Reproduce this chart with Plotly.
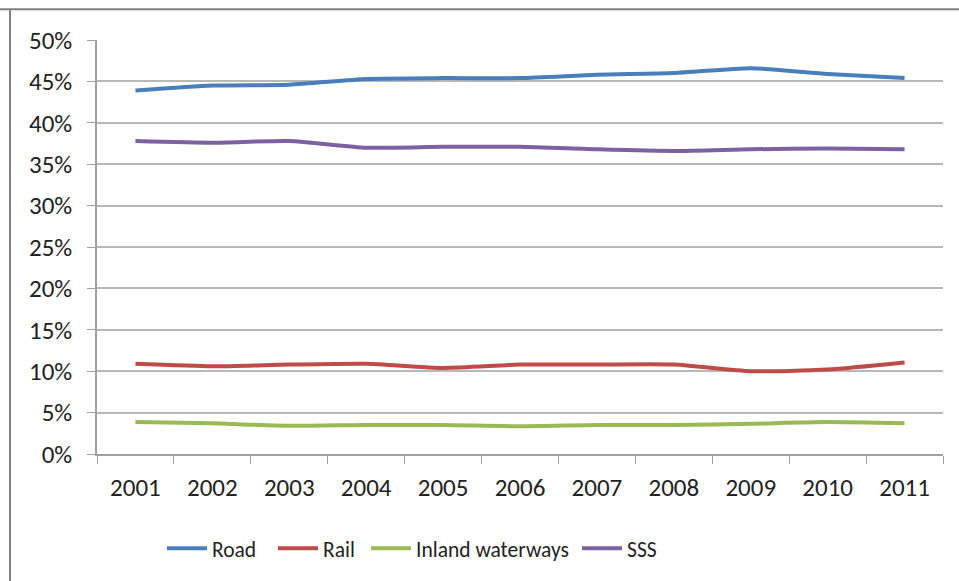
import plotly.graph_objects as go

years = ["2001", "2002", "2003", "2004", "2005", "2006", "2007", "2008", "2009", "2010", "2011"]
road = [43.9, 44.5, 44.6, 45.3, 45.4, 45.4, 45.8, 46.0, 46.6, 45.9, 45.4]
rail = [10.9, 10.6, 10.8, 10.9, 10.4, 10.8, 10.8, 10.8, 10.0, 10.2, 11.05]
inland = [3.85, 3.7, 3.4, 3.5, 3.5, 3.35, 3.5, 3.5, 3.65, 3.85, 3.7]
sss = [37.8, 37.6, 37.8, 37.0, 37.1, 37.1, 36.8, 36.6, 36.8, 36.9, 36.8]

series = [
    ("Road", road, "#4A7EBB"),
    ("Rail", rail, "#BE4B48"),
    ("Inland waterways", inland, "#98B954"),
    ("SSS", sss, "#7D60A0"),
]
legend_px = [162, 273, 366, 577]

FONT = "Carlito, Lato, sans-serif"
PLOT_L, PLOT_W = 97, 846

fig = go.Figure()
layout_legends = {}
for i, ((name, vals, color), px) in enumerate(zip(series, legend_px)):
    key = "legend" if i == 0 else f"legend{i + 1}"
    fig.add_trace(go.Scatter(
        x=years, y=[v / 100 for v in vals], name=name, mode="lines",
        line=dict(color=color, width=4, shape="spline", smoothing=0.6),
        legend=key,
    ))
    layout_legends[key] = dict(
        orientation="h", x=(px - PLOT_L) / PLOT_W, xanchor="left",
        y=-0.178, yanchor="top", font=dict(size=21.5), itemwidth=40,
        bgcolor="rgba(0,0,0,0)",
    )

fig.update_layout(
    width=959, height=581,
    margin=dict(l=97, r=16, t=40, b=125),
    paper_bgcolor="white", plot_bgcolor="white",
    font=dict(family=FONT, size=25, color="#222222"),
    showlegend=True,
    xaxis=dict(
        type="category", range=[-0.5, 10.5], tickson="boundaries", ticks="outside", ticklen=8,
        tickcolor="#A0A0A0", showline=True, linecolor="#A0A0A0", linewidth=1.5,
        showgrid=False, tickfont=dict(size=25), ticklabelstandoff=10, fixedrange=True,
    ),
    yaxis=dict(
        range=[0, 0.5], dtick=0.05, tickformat=".0%", ticks="outside", ticklen=8,
        tickcolor="#A0A0A0", showline=True, linecolor="#A0A0A0", linewidth=1.5,
        showgrid=True, gridcolor="#B8B8B8", gridwidth=1.5, zeroline=False,
        tickfont=dict(size=25), ticklabelstandoff=10,
    ),
    shapes=[
        dict(type="line", xref="paper", yref="paper", x0=-97/846, x1=1.1, y0=(581-9-125)/416, y1=(581-9-125)/416,
             line=dict(color="#808080", width=2)),
        dict(type="line", xref="paper", yref="paper", x0=-87/846, x1=-87/846, y0=-0.5, y1=(581-9-125)/416,
             line=dict(color="#808080", width=2)),
    ],
    **layout_legends,
)

fig.write_html("out.html")
